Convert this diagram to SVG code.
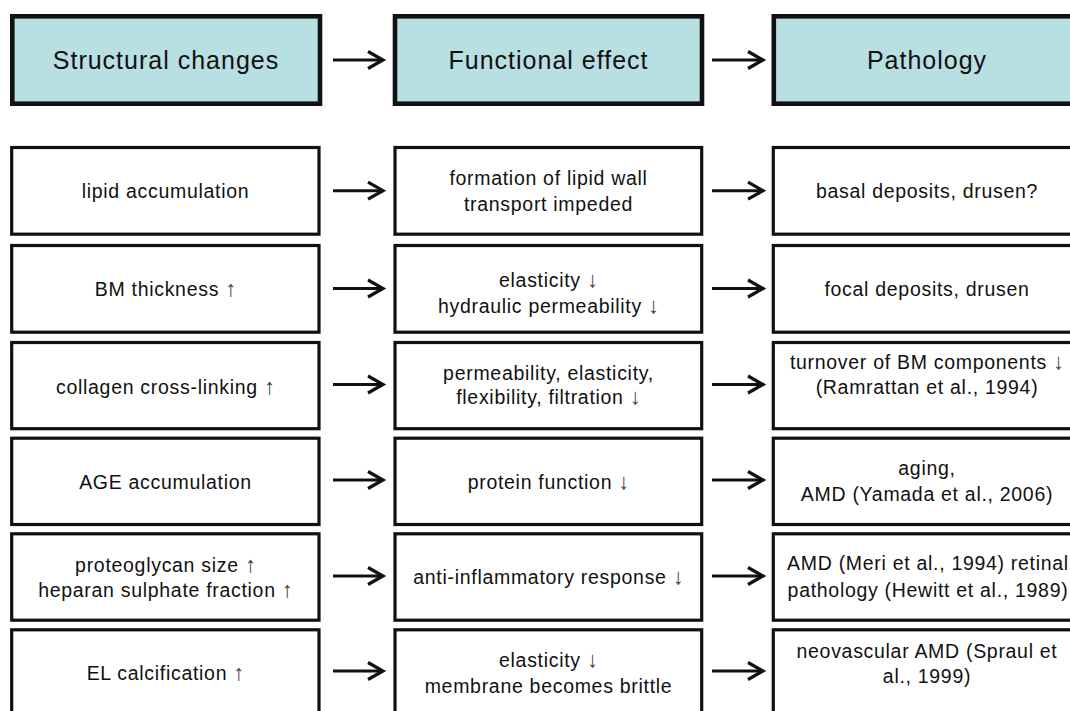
<svg xmlns="http://www.w3.org/2000/svg" width="1070" height="711" viewBox="0 0 1070 711">
<style>
.hd rect{fill:#b8dfe2;stroke:#111;stroke-width:4.6}
.bx rect{fill:#fff;stroke:#111;stroke-width:3.2}
text{font-family:"Liberation Sans",Arial,sans-serif;fill:#111;text-anchor:middle}
.ht{font-size:25px;letter-spacing:1px}
.t{font-size:19.5px;letter-spacing:0.7px}
.ar{fill:#444;font-size:22px;letter-spacing:0}
.con path{fill:none;stroke:#111;stroke-width:3;marker-end:url(#ah)}
</style>
<defs>
<marker id="ah" markerUnits="userSpaceOnUse" markerWidth="24" markerHeight="24" refX="17" refY="10" orient="auto" overflow="visible">
<path d="M2,1.5 L17,10 L2,18.5" fill="none" stroke="#111" stroke-width="3.2" stroke-linejoin="miter"/>
</marker>
</defs>
<rect width="1070" height="711" fill="#fff"/>

<g id="h1" class="hd"><rect x="12.3" y="16.3" width="307.7" height="87.4"/><text class="ht" x="166" y="69">Structural changes</text></g>
<g id="h2" class="hd"><rect x="395" y="16.3" width="307" height="87.4"/><text class="ht" x="548.5" y="68.5">Functional effect</text></g>
<g id="h3" class="hd"><rect x="773.8" y="16.3" width="308" height="87.4"/><text class="ht" x="927" y="68.5">Pathology</text></g>

<g id="r1a" class="bx"><rect x="11.7" y="147.5" width="307.3" height="86.7"/><text class="t" x="165.5" y="198">lipid accumulation</text></g>
<g id="r1b" class="bx"><rect x="395" y="147.5" width="306.7" height="86.7"/><text class="t" x="548.5" y="185">formation of lipid wall</text><text class="t" x="548.5" y="210.5">transport impeded</text></g>
<g id="r1c" class="bx"><rect x="773.3" y="147.5" width="308" height="86.7"/><text class="t" x="927" y="198">basal deposits, drusen?</text></g>

<g id="r2a" class="bx"><rect x="11.7" y="245.5" width="307.3" height="86.7"/><text class="t" x="165.5" y="296">BM thickness <tspan class="ar">↑</tspan></text></g>
<g id="r2b" class="bx"><rect x="395" y="245.5" width="306.7" height="86.7"/><text class="t" x="548.5" y="286.5">elasticity <tspan class="ar">↓</tspan></text><text class="t" x="548.5" y="312.5">hydraulic permeability <tspan class="ar">↓</tspan></text></g>
<g id="r2c" class="bx"><rect x="773.3" y="245.5" width="308" height="86.7"/><text class="t" x="927" y="296">focal deposits, drusen</text></g>

<g id="r3a" class="bx"><rect x="11.7" y="342.5" width="307.3" height="86.2"/><text class="t" x="165.5" y="394">collagen cross-linking <tspan class="ar">↑</tspan></text></g>
<g id="r3b" class="bx"><rect x="395" y="342.5" width="306.7" height="86.2"/><text class="t" x="548.5" y="380">permeability, elasticity,</text><text class="t" x="548.5" y="404">flexibility, filtration <tspan class="ar">↓</tspan></text></g>
<g id="r3c" class="bx"><rect x="773.3" y="342.5" width="308" height="86.2"/><text class="t" x="927" y="369">turnover of BM components <tspan class="ar">↓</tspan></text><text class="t" x="927" y="394">(Ramrattan et al., 1994)</text></g>

<g id="r4a" class="bx"><rect x="11.7" y="438.2" width="307.3" height="86.3"/><text class="t" x="165.5" y="489">AGE accumulation</text></g>
<g id="r4b" class="bx"><rect x="395" y="438.2" width="306.7" height="86.3"/><text class="t" x="548.5" y="489">protein function <tspan class="ar">↓</tspan></text></g>
<g id="r4c" class="bx"><rect x="773.3" y="438.2" width="308" height="86.3"/><text class="t" x="927" y="475">aging,</text><text class="t" x="927" y="500.5">AMD (Yamada et al., 2006)</text></g>

<g id="r5a" class="bx"><rect x="11.7" y="533.8" width="307.3" height="86.4"/><text class="t" x="165.5" y="571.5">proteoglycan size <tspan class="ar">↑</tspan></text><text class="t" x="165.5" y="596.5">heparan sulphate fraction <tspan class="ar">↑</tspan></text></g>
<g id="r5b" class="bx"><rect x="395" y="533.8" width="306.7" height="86.4"/><text class="t" x="548.5" y="584">anti-inflammatory response <tspan class="ar">↓</tspan></text></g>
<g id="r5c" class="bx"><rect x="773.3" y="533.8" width="308" height="86.4"/><text class="t" x="928" y="570">AMD (Meri et al., 1994) retinal</text><text class="t" x="928" y="596.5">pathology (Hewitt et al., 1989)</text></g>

<g id="r6a" class="bx"><rect x="11.7" y="629.8" width="307.3" height="90"/><text class="t" x="165.5" y="680">EL calcification <tspan class="ar">↑</tspan></text></g>
<g id="r6b" class="bx"><rect x="395" y="629.8" width="306.7" height="90"/><text class="t" x="548.5" y="667">elasticity <tspan class="ar">↓</tspan></text><text class="t" x="548.5" y="693">membrane becomes brittle</text></g>
<g id="r6c" class="bx"><rect x="773.3" y="629.8" width="308" height="90"/><text class="t" x="927" y="658">neovascular AMD (Spraul et</text><text class="t" x="927" y="683">al., 1999)</text></g>

<g id="connectors" class="con">
<path d="M333,60 H383"/><path d="M712,60 H763"/>
<path d="M333,190.7 H383"/><path d="M712,190.7 H763"/>
<path d="M333,288.5 H383"/><path d="M712,288.5 H763"/>
<path d="M333,384.5 H383"/><path d="M712,384.5 H763"/>
<path d="M333,480 H383"/><path d="M712,480 H763"/>
<path d="M333,576 H383"/><path d="M712,576 H763"/>
<path d="M333,671 H383"/><path d="M712,671 H763"/>
</g>
</svg>
